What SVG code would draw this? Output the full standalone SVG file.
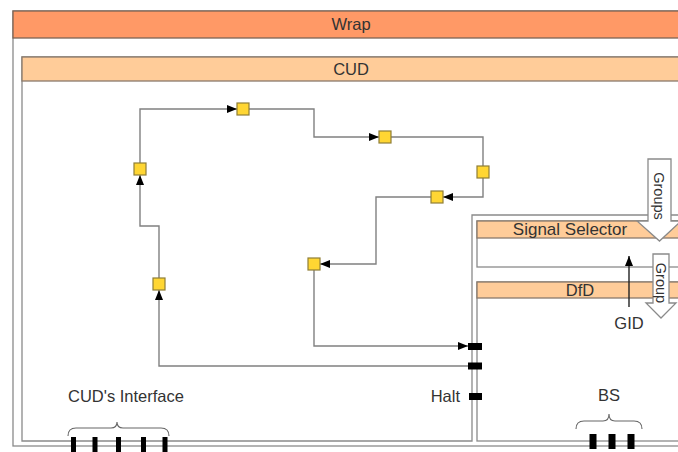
<svg xmlns="http://www.w3.org/2000/svg" width="678" height="452" viewBox="0 0 678 452">
<defs>
<marker id="ah" viewBox="0 0 10 8" refX="10" refY="4" markerWidth="11" markerHeight="8" markerUnits="userSpaceOnUse" orient="auto">
<path d="M0,0 L10,4 L0,8 Z" fill="#000"/>
</marker>
<style>
.box{fill:#fff;stroke:#8a8a8a;stroke-width:1.3}
.hdr1{fill:#FF9966;stroke:#7d6455;stroke-width:1.3}
.hdr2{fill:#FFCC99;stroke:#8a7a6c;stroke-width:1.3}
.t{font-family:"Liberation Sans",Arial,sans-serif;font-size:16.5px;fill:#333}
.c{text-anchor:middle}
.edge{fill:none;stroke:#808080;stroke-width:1.4}
.node{fill:#FFD633;stroke:#8f7e36;stroke-width:1.2}
.port{fill:#000}
.brace{fill:none;stroke:#666;stroke-width:1.1}
.blk{fill:#fff;stroke:#8a8a8a;stroke-width:1.3}
</style>
</defs>
<g id="wrap">
<rect class="box" x="13" y="11" width="676" height="435"/>
<rect class="hdr1" x="13" y="11" width="676" height="27"/>
<text class="t c" x="351" y="30">Wrap</text>
</g>
<g id="cud">
<path class="box" d="M22,57 H681 V215 H472 V441 H22 Z"/>
<rect class="hdr2" x="22" y="57" width="659" height="24"/>
<text class="t c" x="351" y="75">CUD</text>
</g>
<g id="signal-selector">
<rect class="box" x="477" y="221" width="210" height="46"/>
<rect class="hdr2" x="477" y="221" width="210" height="17"/>
<text class="t c" x="570" y="235" style="font-size:17px">Signal Selector</text>
</g>
<g id="dfd">
<rect class="box" x="477" y="282" width="210" height="159"/>
<rect class="hdr2" x="477" y="282" width="210" height="16"/>
<text class="t c" x="580" y="296">DfD</text>
</g>
<g id="groups-arrow">
<path class="blk" d="M648,159 H671 V221 H681 L659.5,241 L637,221 H648 Z"/>
<text class="t c" transform="translate(653.5,196) rotate(90)" style="font-size:14.5px">Groups</text>
</g>
<g id="group-arrow">
<path class="blk" d="M653,254 H669 V303 H676 L661,318 L646,303 H653 Z"/>
<text class="t c" transform="translate(656,283) rotate(90)" style="font-size:14.5px">Group</text>
</g>
<g id="gid">
<line class="edge" x1="629" y1="307" x2="629" y2="256" stroke="#222" style="stroke:#222" marker-end="url(#ah)"/>
<text class="t c" x="629" y="329">GID</text>
</g>
<g id="connectors">
<path class="edge" d="M468,366 H159 V290" marker-end="url(#ah)"/>
<path class="edge" d="M159,278 V226 H140 V175" marker-end="url(#ah)"/>
<path class="edge" d="M140,163 V109 H237" marker-end="url(#ah)"/>
<path class="edge" d="M249,109 H314 V137 H379" marker-end="url(#ah)"/>
<path class="edge" d="M391,137 H483 V166"/>
<path class="edge" d="M483,178 V197 H443" marker-end="url(#ah)"/>
<path class="edge" d="M431,197 H376 V264 H320" marker-end="url(#ah)"/>
<path class="edge" d="M314,270 V346 H468" marker-end="url(#ah)"/>
</g>
<g id="nodes">
<rect id="n1" class="node" x="134" y="163" width="12" height="12"/>
<rect id="n2" class="node" x="237" y="103" width="12" height="12"/>
<rect id="n3" class="node" x="379" y="131" width="12" height="12"/>
<rect id="n4" class="node" x="477" y="166" width="12" height="12"/>
<rect id="n5" class="node" x="431" y="191" width="12" height="12"/>
<rect id="n6" class="node" x="308" y="258" width="12" height="12"/>
<rect id="n7" class="node" x="153" y="278" width="12" height="12"/>
</g>
<g id="ports">
<rect class="port" x="468" y="343" width="14" height="7"/>
<rect class="port" x="468" y="362.5" width="14" height="7"/>
<rect class="port" x="469" y="393" width="13" height="7"/>
<text class="t" x="460" y="402" text-anchor="end">Halt</text>
</g>
<g id="cud-interface">
<text class="t c" x="126" y="402">CUD's Interface</text>
<path class="brace" d="M68,436 Q68,428 76,428 H111 Q117,428 117,422 Q117,428 123,428 H161 Q169,428 169,436"/>
<rect class="port" x="71" y="437" width="5" height="16"/>
<rect class="port" x="92.5" y="437" width="5" height="16"/>
<rect class="port" x="116" y="437" width="5" height="16"/>
<rect class="port" x="141" y="437" width="5" height="16"/>
<rect class="port" x="162.5" y="437" width="5" height="16"/>
</g>
<g id="bs">
<text class="t c" x="609" y="401">BS</text>
<path class="brace" d="M576,429 Q576,421 584,421 H603 Q609,421 609,414 Q609,421 615,421 H634 Q642,421 642,429"/>
<rect class="port" x="589.5" y="434" width="7" height="15"/>
<rect class="port" x="608.5" y="434" width="7" height="15"/>
<rect class="port" x="627.5" y="434" width="7" height="15"/>
</g>
</svg>
